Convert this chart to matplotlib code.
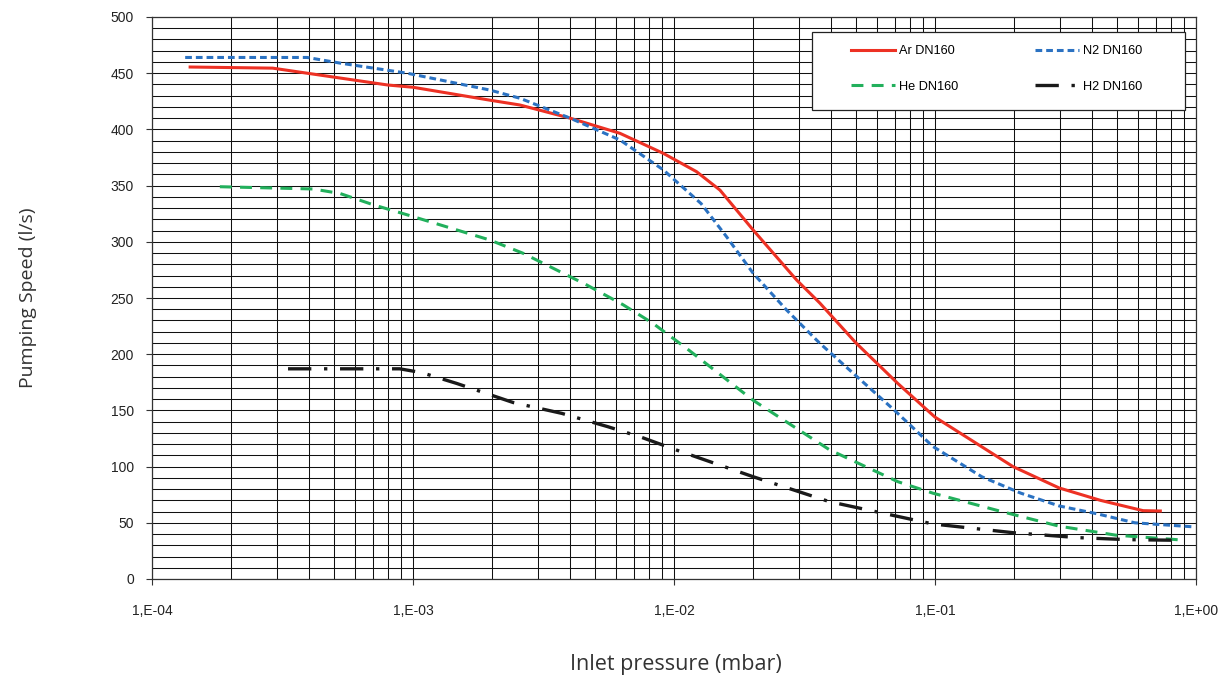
import matplotlib.pyplot as plt
from matplotlib.patches import Rectangle
from matplotlib.ticker import LogLocator, FixedLocator, NullFormatter

plt.rcParams['font.family'] = ['Liberation Sans', 'DejaVu Sans']

# Valeurs (pression en mbar, vitesse en l/s)
ar_p = [1.40e-4, 2.9e-4, 3.93e-4, 8.0e-4, 1.0e-3, 1.97e-3, 2.57e-3, 4.0e-3, 6.21e-3, 9.1e-3,
        1.22e-2, 1.50e-2, 2.01e-2, 2.95e-2, 3.62e-2, 4.98e-2, 7.2e-2, 0.1, 0.199, 0.299,
        0.43, 0.627, 0.73]
ar_s = [455.5, 454.5, 450, 439.5, 437.5, 426, 421.7, 410, 396.5, 378.7,
        362.4, 346, 310.5, 266, 245.5, 210, 174, 144, 100, 81,
        70, 60.8, 60.5]

n2_p = [1.34e-4, 3.93e-4, 5.25e-4, 9.5e-4, 1.97e-3, 2.57e-3, 4.0e-3, 6.21e-3, 9.1e-3, 1.27e-2,
        1.59e-2, 2.01e-2, 2.70e-2, 3.62e-2, 7.0e-2, 9.8e-2, 0.151, 0.213, 0.299, 0.418,
        0.583, 0.965]
n2_s = [464, 464, 459, 450, 435, 427.7, 410, 390.6, 364, 334,
        304.5, 272, 239.3, 209.7, 150, 118, 91, 76.4, 65, 58,
        50, 46.5]

he_p = [1.82e-4, 4.14e-4, 5.25e-4, 7.03e-4, 9.5e-4, 1.97e-3, 2.64e-3, 4.63e-3, 6.38e-3, 8.3e-3,
        1.12e-2, 2.01e-2, 3.94e-2, 7.2e-2, 9.8e-2, 0.18, 0.299, 0.493, 0.88]
he_s = [349, 347, 343, 333, 324, 301.6, 289.8, 261.6, 244, 227.5,
        205, 159, 115, 86.6, 76.4, 60, 47, 39, 34.7]

h2_p = [3.32e-4, 8.9e-4, 1.08e-3, 1.47e-3, 2.42e-3, 3.71e-3, 5.58e-3, 7.52e-3, 1.02e-2, 2.01e-2,
        3.94e-2, 9.8e-2, 0.199, 0.353, 0.55, 0.82]
h2_s = [187, 187, 183.6, 174, 157, 147.4, 135.5, 126, 114.8, 91,
        68.8, 49, 41.2, 36.8, 35, 34.5]

x_ticks = [1e-4, 1e-3, 1e-2, 1e-1, 1e0]
x_labels = ['1,E-04', '1,E-03', '1,E-02', '1,E-01', '1,E+00']
y_ticks = list(range(0, 501, 50))

fig = plt.figure(figsize=(12.24, 6.8), dpi=100)
ax = fig.add_axes([152 / 1224, 1 - 579 / 680, 1044 / 1224, 562 / 680])

l_ar, = ax.plot(ar_p, ar_s, color='#ED3124', lw=2.2, label='Ar DN160', zorder=3)
l_n2, = ax.plot(n2_p, n2_s, color='#2B72C2', lw=2.2, linestyle=(0, (2.2, 1.3)),
                label='N2 DN160', zorder=3)
l_he, = ax.plot(he_p, he_s, color='#22B05C', lw=2.2, linestyle=(0, (3.9, 2.7)),
                label='He DN160', zorder=3)
l_h2, = ax.plot(h2_p, h2_s, color='#1A1A1A', lw=2.4, dash_capstyle='butt',
                linestyle=(0, (7.0, 3.8, 1.0, 3.8)), label='H2 DN160', zorder=3)

ax.set_xscale('log')
ax.set_xlim(1e-4, 1)
ax.set_ylim(0, 500)

ax.xaxis.set_major_locator(FixedLocator(x_ticks))
ax.set_xticklabels(x_labels)
ax.xaxis.set_minor_locator(LogLocator(base=10, subs=range(2, 10)))
ax.xaxis.set_minor_formatter(NullFormatter())
ax.set_yticks(y_ticks)
ax.yaxis.set_minor_locator(FixedLocator(range(0, 501, 10)))

ax.tick_params(axis='both', which='major', direction='out', length=4, width=0.8,
               color='#333333', labelsize=10, labelcolor='#222222')
ax.tick_params(axis='x', which='major', pad=14)
ax.tick_params(axis='y', which='major', pad=9)
ax.tick_params(which='minor', length=0)

ax.grid(which='both', color='#111111', linewidth=0.75)
ax.set_axisbelow(True)
for s in ax.spines.values():
    s.set_color('#333333')
    s.set_linewidth(0.9)

ax.set_xlabel('Inlet pressure (mbar)', fontsize=15.5, color='#333333', family=['Open Sans', 'DejaVu Sans'])
ax.xaxis.set_label_coords(0.502, -0.133)
ax.set_ylabel('Pumping Speed (l/s)', fontsize=14, color='#333333', family=['Open Sans', 'DejaVu Sans'])
ax.yaxis.set_label_coords(-0.110, 0.5)

# cadre de légende
ax.add_patch(Rectangle((0.632, 0.8345), 0.3575, 0.1385, transform=ax.transAxes,
                       facecolor='white', edgecolor='#222222', lw=0.9, zorder=5))
# ordre ligne par ligne : Ar, N2 / He, H2
leg = ax.legend([l_ar, l_he, l_n2, l_h2], ['Ar DN160', 'He DN160', 'N2 DN160', 'H2 DN160'],
                ncol=2, loc='upper left', bbox_to_anchor=(0.6695, 0.950),
                frameon=False, fontsize=9.2, borderpad=0, borderaxespad=0,
                handlelength=3.45, handletextpad=0.3, columnspacing=6.0,
                labelspacing=1.85)
leg.set_zorder(6)

fig.savefig('out.png', dpi=100)
